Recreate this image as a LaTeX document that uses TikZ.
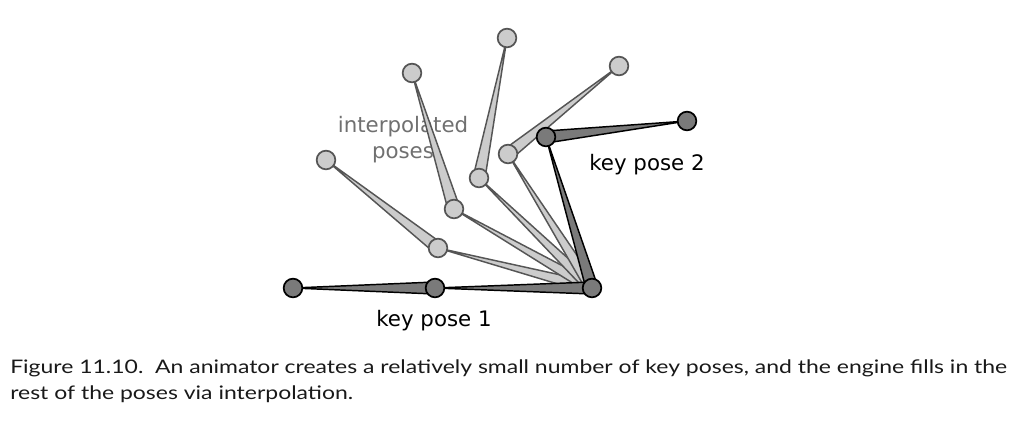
\documentclass[tikz,border=0pt]{standalone}
\usepackage{fontspec}
\setmainfont{Lato}
\newfontfamily\capfont[FakeStretch=1.23]{Lato}
\newfontfamily\vfont{DejaVu Sans}
\usetikzlibrary{calc}
\definecolor{keyfill}{HTML}{7A7A7A}
\definecolor{interfill}{HTML}{CCCCCC}
\definecolor{interline}{HTML}{555555}
\definecolor{labelgray}{HTML}{707070}
\newcommand{\bonewedge}[3]{%
  \filldraw[#1] ($(#2)!4.5pt!90:(#3)$) -- ($(#2)!4.5pt!-90:(#3)$) -- (#3) -- cycle;}
\tikzset{
  keybone/.style={fill=keyfill, draw=black, line width=1.1pt, line join=round},
  interbone/.style={fill=interfill, draw=interline, line width=1.1pt, line join=round},
  keyjoint/.style={circle, minimum size=14pt, inner sep=0pt, fill=keyfill, draw=black, line width=1.3pt},
  interjoint/.style={circle, minimum size=14pt, inner sep=0pt, fill=interfill, draw=interline, line width=1.3pt},
  keylabel/.style={font=\vfont\fontsize{16}{19}\selectfont, text=black},
  interlabel/.style={font=\vfont\fontsize{16}{19.5}\selectfont, text=labelgray, align=center},
  captionline/.style={font=\capfont\fontsize{14}{19}\selectfont, anchor=west, inner sep=0pt, text=black!90}
}
\begin{document}
\begin{tikzpicture}[x=0.75pt,y=-0.75pt]
\useasboundingbox (0,0) rectangle (1018,429);
% joint positions
\coordinate (R) at (592,288);
\coordinate (A1) at (435,288);  \coordinate (A2) at (293,288);
\coordinate (B1) at (546,137);  \coordinate (B2) at (687,121);
\coordinate (I1a) at (438,248); \coordinate (I1b) at (326,160);
\coordinate (I2a) at (454,209); \coordinate (I2b) at (412,73);
\coordinate (I3a) at (479,178); \coordinate (I3b) at (507,38);
\coordinate (I4a) at (508,154); \coordinate (I4b) at (619,66);
% labels
\node[interlabel] (ilab) at (403,140) {interpolated\\poses};
\node[keylabel] (k2) at (647,165) {key pose 2};
\node[keylabel] (k1) at (434,321) {key pose 1};
% interpolated bones
\bonewedge{interbone}{R}{I1a}
\bonewedge{interbone}{R}{I2a}
\bonewedge{interbone}{R}{I3a}
\bonewedge{interbone}{R}{I4a}
\bonewedge{interbone}{I1a}{I1b}
\bonewedge{interbone}{I2a}{I2b}
\bonewedge{interbone}{I3a}{I3b}
\bonewedge{interbone}{I4a}{I4b}
% key bones
\bonewedge{keybone}{R}{A1}
\bonewedge{keybone}{A1}{A2}
\bonewedge{keybone}{R}{B1}
\bonewedge{keybone}{B1}{B2}
% joints
\node[interjoint] (j1a) at (I1a) {}; \node[interjoint] (j1b) at (I1b) {};
\node[interjoint] (j2a) at (I2a) {}; \node[interjoint] (j2b) at (I2b) {};
\node[interjoint] (j3a) at (I3a) {}; \node[interjoint] (j3b) at (I3b) {};
\node[interjoint] (j4a) at (I4a) {}; \node[interjoint] (j4b) at (I4b) {};
\node[keyjoint] (ja1) at (A1) {}; \node[keyjoint] (ja2) at (A2) {};
\node[keyjoint] (jb1) at (B1) {}; \node[keyjoint] (jb2) at (B2) {};
\node[keyjoint] (root) at (R) {};
% caption
\node[captionline] (cap1) at (10,368) {Figure 11.10.\ \ An animator creates a relatively small number of key poses, and the engine fills in the};
\node[captionline] (cap2) at (10,394) {rest of the poses via interpolation.};
\end{tikzpicture}
\end{document}
